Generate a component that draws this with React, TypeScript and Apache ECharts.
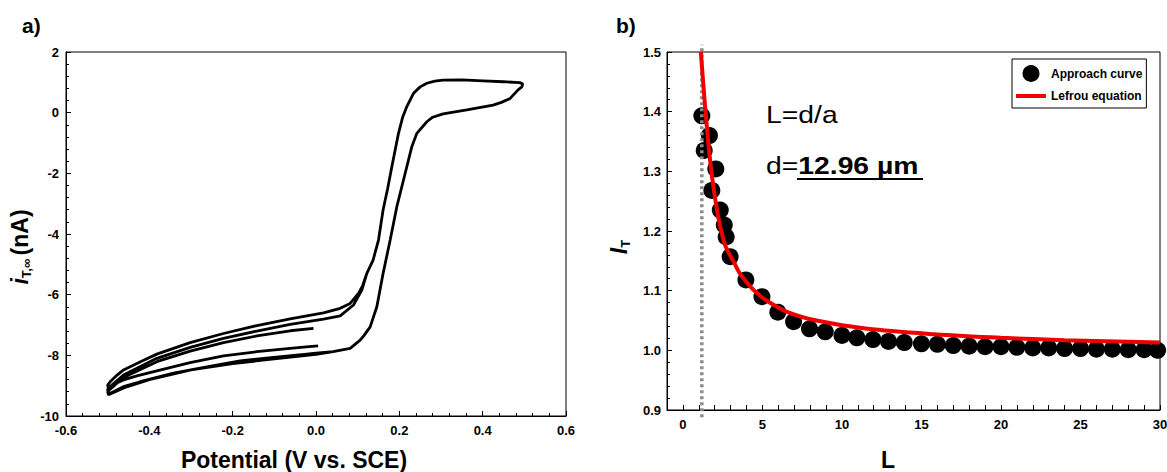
import React, { useEffect, useRef } from "react";
import * as echarts from "echarts";

// ---------- Panel a) cyclic voltammogram: potential (V vs. SCE), current (nA) ----------
const sweepNeg1 = [[0.005,-7.69],[-0.03,-7.73],[-0.062,-7.77],[-0.142,-7.88],[-0.222,-8.02],[-0.302,-8.24],[-0.382,-8.51],[-0.43,-8.68],[-0.462,-8.81],[-0.485,-8.95],[-0.498,-9.09]];
const sweepPos1 = [[-0.5,-8.98],[-0.494,-8.87],[-0.478,-8.66],[-0.462,-8.48],[-0.42,-8.2],[-0.382,-7.96],[-0.302,-7.58],[-0.222,-7.28],[-0.142,-7.02],[-0.062,-6.8],[0.018,-6.6],[0.058,-6.45],[0.082,-6.29],[0.102,-5.96],[0.112,-5.7]];
const forwardWave = [[0.122,-5.3],[0.137,-4.86],[0.15,-4.2],[0.161,-3.21],[0.172,-2.5],[0.182,-1.78],[0.198,-0.68],[0.208,-0.15],[0.218,0.2],[0.234,0.64],[0.25,0.85],[0.266,0.97],[0.285,1.04],[0.305,1.07],[0.35,1.08],[0.401,1.05],[0.45,1.02],[0.489,0.99],[0.496,0.95]];
const returnWave = [[0.494,0.85],[0.485,0.75],[0.466,0.47],[0.445,0.34],[0.425,0.25],[0.362,0.09],[0.305,-0.04],[0.28,-0.15],[0.266,-0.3],[0.242,-0.68],[0.23,-1.12],[0.21,-2.22],[0.194,-3.1],[0.178,-4.2],[0.161,-5.3],[0.146,-6.4],[0.13,-7.06],[0.115,-7.35],[0.106,-7.5],[0.082,-7.77],[0.041,-7.88]];
const sweepNeg2 = [[0,-7.93],[-0.022,-7.96],[-0.102,-8.07],[-0.182,-8.18],[-0.262,-8.38],[-0.342,-8.59],[-0.422,-8.87],[-0.46,-9.02],[-0.478,-9.14],[-0.498,-9.28]];
const sweepPos2 = [[-0.5,-9.12],[-0.494,-9.03],[-0.462,-8.65],[-0.382,-8.1],[-0.302,-7.74],[-0.222,-7.44],[-0.142,-7.2],[-0.062,-6.98],[0.018,-6.81],[0.058,-6.7],[0.09,-6.34],[0.11,-5.85]];
const sweepNeg3 = [[0.041,-7.9],[0,-7.97],[-0.1,-8.12],[-0.2,-8.27],[-0.3,-8.48],[-0.4,-8.8],[-0.46,-9.07],[-0.498,-9.3]];
const sweepPos3 = [[-0.5,-9.2],[-0.494,-9.12],[-0.462,-8.73],[-0.382,-8.21],[-0.302,-7.86],[-0.222,-7.58],[-0.142,-7.36],[-0.062,-7.19],[-0.006,-7.11]];

// ---------- Panel b) approach curve ----------
const approachL = [1.19,1.67,1.34,2.07,1.82,2.35,2.6,2.72,2.97,3.96,4.97,5.97,6.96,7.96,8.95,10,10.94,11.95,12.93,13.92,15,16,17,18,19,20,21,22,23,24,25,26,27,28,29,29.85];
const approachI = [1.393,1.36,1.335,1.304,1.268,1.235,1.21,1.19,1.157,1.118,1.09,1.064,1.048,1.036,1.031,1.025,1.021,1.018,1.015,1.013,1.011,1.01,1.008,1.007,1.006,1.006,1.005,1.004,1.004,1.003,1.003,1.002,1.002,1.001,1.001,1.0];
const lefrouL = [1.13,1.3,1.51,1.72,1.93,2.24,2.66,3.2,3.6,4.2,4.65,5.28,6.5,8.4,11.6,15.8,20,24,30];
const lefrouI = [1.5,1.44,1.373,1.316,1.272,1.221,1.176,1.148,1.128,1.108,1.096,1.083,1.065,1.05,1.036,1.027,1.021,1.017,1.013];
const tipL = 1.19;
const tipSpan = [0.888, 1.512];

const FONT = "'Liberation Sans', Arial, sans-serif";
const tickLabel = { color: "#000", fontWeight: "bold", fontSize: 13, fontFamily: FONT };
const axisLine = { onZero: false, lineStyle: { color: "#000", width: 1 } };

export default function App() {
  const ref = useRef<HTMLDivElement>(null);
  useEffect(() => {
    document.body.style.margin = "0";
    const chart = echarts.init(ref.current!, null, { renderer: "svg" });
    const cvData = [
      ...sweepNeg1, ...sweepPos1, ...forwardWave, ...returnWave,
      ...sweepNeg2, ...sweepPos2, ...forwardWave, ...returnWave,
      ...sweepNeg3, ...sweepPos3,
    ];
    const option: any = {
      animation: false,
      backgroundColor: "#fff",
      textStyle: { fontFamily: FONT },
      grid: [
        { left: 66, top: 52, width: 500, height: 364, show: true, borderColor: "#000", borderWidth: 1, backgroundColor: "transparent", outerBoundsMode: "none" },
        { left: 667, top: 52, width: 493, height: 358, show: true, borderColor: "#000", borderWidth: 1, backgroundColor: "transparent", outerBoundsMode: "none" },
      ],
      xAxis: [
        {
          gridIndex: 0, type: "value", min: -0.6, max: 0.6, interval: 0.2,
          axisLine, splitLine: { show: false },
          axisTick: { inside: true, length: 5, lineStyle: { color: "#000" } },
          minorTick: { show: true, splitNumber: 5, length: 3, lineStyle: { color: "#000" } },
          axisLabel: { ...tickLabel, margin: 8, formatter: (v: number) => v.toFixed(1) },
        },
        {
          gridIndex: 1, type: "value", min: -1, max: 30, interval: 1,
          axisLine, splitLine: { show: false },
          axisTick: { inside: true, length: 5, lineStyle: { color: "#000" } },
          axisLabel: { ...tickLabel, margin: 8, formatter: (v: number) => (Math.round(v) % 5 === 0 ? String(Math.round(v)) : "") },
        },
      ],
      yAxis: [
        {
          gridIndex: 0, type: "value", min: -10, max: 2, interval: 2,
          axisLine, splitLine: { show: false },
          axisTick: { inside: true, length: 5, lineStyle: { color: "#000" } },
          minorTick: { show: true, splitNumber: 5, length: 3, lineStyle: { color: "#000" } },
          axisLabel: { ...tickLabel, margin: 7 },
        },
        {
          gridIndex: 1, type: "value", min: 0.9, max: 1.5, interval: 0.1,
          axisLine, splitLine: { show: false },
          axisTick: { inside: true, length: 5, lineStyle: { color: "#000" } },
          minorTick: { show: true, splitNumber: 5, length: 3, lineStyle: { color: "#000" } },
          axisLabel: { ...tickLabel, margin: 6, formatter: (v: number) => v.toFixed(1) },
        },
      ],
      legend: {
        data: [
          { name: "Approach curve", icon: "circle" },
          { name: "Lefrou equation", icon: "path://M0,0L30,0L30,4L0,4Z" },
        ],
        orient: "vertical",
        left: 1012,
        top: 59,
        borderColor: "#000",
        borderWidth: 1,
        borderRadius: 0,
        padding: [6, 4, 6, 4],
        itemGap: 8,
        itemWidth: 30,
        itemHeight: 17,
        selectedMode: false,
        textStyle: { fontWeight: "bold", fontSize: 12, color: "#000", fontFamily: FONT },
      },
      series: [
        {
          type: "line", name: "CV", xAxisIndex: 0, yAxisIndex: 0, data: cvData,
          symbol: "none", showSymbol: false, smooth: false, silent: true,
          lineStyle: { color: "#000", width: 2.8 },
        },
        {
          type: "scatter", name: "Approach curve", xAxisIndex: 1, yAxisIndex: 1,
          data: approachL.map((l, k) => [l, approachI[k]]),
          symbol: "circle", symbolSize: 17, itemStyle: { color: "#000", opacity: 1 },
          clip: false,
        },
        {
          type: "line", name: "tip", xAxisIndex: 1, yAxisIndex: 1,
          data: tipSpan.map((y) => [tipL, y]), clip: false,
          symbol: "none", lineStyle: { color: "#8a8a8a", width: 3.5, type: [3, 3] },
        },
        {
          type: "line", name: "Lefrou equation", xAxisIndex: 1, yAxisIndex: 1,
          data: lefrouL.map((l, k) => [l, lefrouI[k]]),
          smooth: 0.3, symbol: "none", showSymbol: false,
          lineStyle: { color: "#ee0000", width: 4 }, itemStyle: { color: "#ee0000" },
        },
      ],
      graphic: [
        { type: "text", x: 22, y: 25, style: { text: "a)", fontSize: 21, fontWeight: "bold", fontFamily: FONT, fill: "#000", align: "left", verticalAlign: "middle" } },
        { type: "text", x: 616, y: 25, style: { text: "b)", fontSize: 21, fontWeight: "bold", fontFamily: FONT, fill: "#000", align: "left", verticalAlign: "middle" } },
        { type: "text", x: 294, y: 460, style: { text: "Potential (V vs. SCE)", fontSize: 23, fontWeight: "bold", fontFamily: FONT, fill: "#000", align: "center", verticalAlign: "middle" } },
        { type: "text", x: 888, y: 460, style: { text: "L", fontSize: 23, fontWeight: "bold", fontFamily: FONT, fill: "#000", align: "center", verticalAlign: "middle" } },
        {
          type: "text", x: 20, y: 247, rotation: Math.PI / 2,
          style: {
            text: "{i|i}{s|T,∞} {n|(nA)}", align: "center", verticalAlign: "middle", fill: "#000",
            rich: {
              i: { fontSize: 23, fontWeight: "bold", fontStyle: "italic", fontFamily: FONT, fill: "#000" },
              s: { fontSize: 13, fontWeight: "bold", fontFamily: FONT, fill: "#000", padding: [12, 0, 0, 0] },
              n: { fontSize: 23, fontWeight: "bold", fontFamily: FONT, fill: "#000" },
            },
          },
        },
        {
          type: "text", x: 619, y: 247, rotation: Math.PI / 2,
          style: {
            text: "{i|I}{s|T}", align: "center", verticalAlign: "middle", fill: "#000",
            rich: {
              i: { fontSize: 23, fontWeight: "bold", fontStyle: "italic", fontFamily: FONT, fill: "#000" },
              s: { fontSize: 13, fontWeight: "bold", fontFamily: FONT, fill: "#000", padding: [12, 0, 0, 0] },
            },
          },
        },
        { type: "text", x: 766, y: 115, scaleX: 1.18, style: { text: "L=d/a", fontSize: 24, fontFamily: FONT, fill: "#000", align: "left", verticalAlign: "middle" } },
        {
          type: "text", x: 766, y: 166, scaleX: 1.18,
          style: {
            text: "{n|d=}{b|12.96 µm}", align: "left", verticalAlign: "middle", fill: "#000",
            rich: {
              n: { fontSize: 24, fontFamily: FONT, fill: "#000" },
              b: { fontSize: 24, fontWeight: "bold", fontFamily: FONT, fill: "#000" },
            },
          },
        },
        { type: "line", shape: { x1: 797, y1: 179, x2: 923, y2: 179 }, style: { stroke: "#000", lineWidth: 2 } },
      ],
    };
    chart.setOption(option);
    return () => chart.dispose();
  }, []);
  return <div ref={ref} style={{ width: 1167, height: 472 }} />;
}
